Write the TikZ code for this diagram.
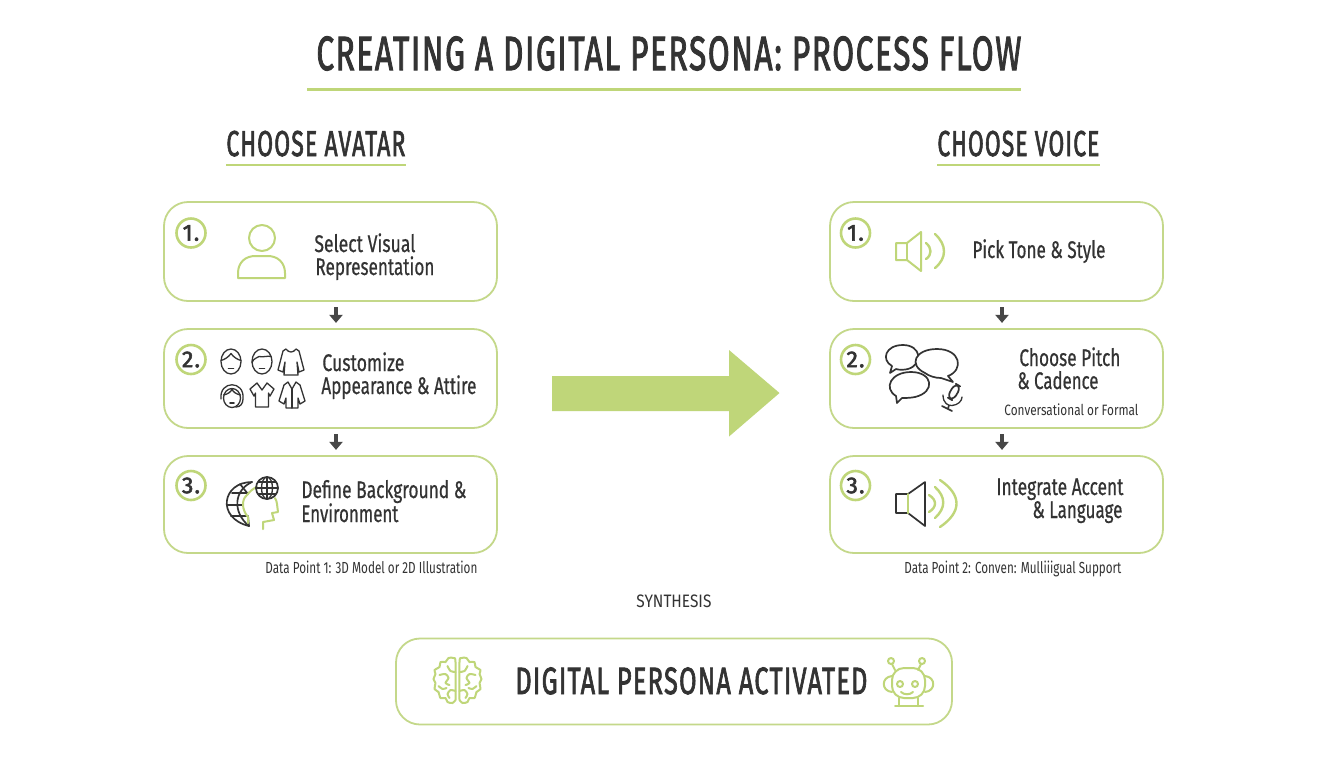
\documentclass[tikz,border=0pt]{standalone}
\usepackage{fontspec}
\usepackage{graphicx}
\setmainfont{Fira Sans}
\newfontfamily\medf{Fira Sans}[FakeBold=0.7]
\newfontfamily\headf{Fira Sans}[FakeBold=2.4,LetterSpace=5]
\usetikzlibrary{arrows.meta,shapes.arrows,calc}
\definecolor{leaf}{HTML}{BFD679}
\definecolor{edgegreen}{HTML}{C4D88A}
\definecolor{ink}{HTML}{333333}
% text fitted to a width given in px of the reference; font size in px
\newcommand\ft[3]{\resizebox{\dimexpr#1pt/2\relax}{\height}{\fontsize{\dimexpr#2pt/2\relax}{\dimexpr#2pt/2\relax}\selectfont #3}}
\newcommand\fm[3]{\ft{#1}{#2}{\medf #3}}
\newcommand\fb[3]{\ft{#1}{#2}{\headf #3}}
\tikzset{
  x=0.5pt,y=-0.5pt,
  card/.style={draw=edgegreen,line width=.9pt,fill=white,rounded corners=12pt,minimum width=166.5pt,minimum height=49.5pt,inner sep=0pt},
  badge/.style={circle,draw=leaf,line width=1.3pt,minimum size=14.5pt,inner sep=0pt,text=ink,font=\fontsize{11.5}{11.5}\selectfont\headf},
  txt/.style={anchor=base west,inner sep=0pt,text=ink},
  flowarrow/.style={draw=ink!90,line width=1.6pt,shorten <=2.6pt,shorten >=2.6pt,-{Triangle[width=6.5pt,length=4pt]}},
  rule/.style={draw=leaf,line width=#1},
  gline/.style={draw=leaf,line width=1pt,line join=round,line cap=round},
  gthick/.style={draw=leaf,line width=1.2pt,line join=round,line cap=round},
  dline/.style={draw=ink,line width=.65pt,line join=round,line cap=round},
  dlineb/.style={draw=ink,line width=.85pt,line join=round,line cap=round},
  faceA/.pic={\draw[dline] (0,0) ellipse[x radius=10,y radius=12.5];
    \draw[dline] (-10,-1) .. controls (-6,-2) and (-2,-5) .. (0,-8) .. controls (2,-5) and (6,-2) .. (10,-1);
    \draw[dlineb] (-2.5,7) -- (2.5,7);},
  faceB/.pic={\draw[dline] (0,0) ellipse[x radius=10,y radius=12.5];
    \draw[dline] (-10,1) .. controls (-8,-4) and (-5,-3) .. (-3,-5) .. controls (1,-4) and (6,-6) .. (9,-5);
    \draw[dlineb] (-2.5,7) -- (2.5,7);},
  faceC/.pic={\draw[dline] (0,3) ellipse[x radius=8.5,y radius=9.5];
    \draw[dline] (-11,4) .. controls (-13,-15) and (13,-15) .. (11,4) .. controls (11,9) and (8,12) .. (4,12);
    \draw[dline] (-8.5,0) .. controls (-4,-1) and (-1,-3) .. (0,-6) .. controls (1,-3) and (4,-1) .. (8.5,0);
    \draw[dlineb] (-2,8) -- (2,8);},
  coatA/.pic={\draw[dline] (-5,-13) -- (-8,-11) -- (-13,8) -- (-8,10) -- (-6,0) -- (-7,13) -- (7,13) -- (6,0) -- (8,10) -- (13,8) -- (8,-11) -- (5,-13) .. controls (2,-9) and (-2,-9) .. (-5,-13) -- cycle;},
  shirtA/.pic={\draw[dline] (-5,-12) -- (-12,-6) -- (-8,1) -- (-6.5,-2) -- (-6.5,12) -- (6.5,12) -- (6.5,-2) -- (8,1) -- (12,-6) -- (5,-12) -- (0,-5) -- cycle;},
  coatB/.pic={\draw[dline] (-4,-13) -- (-8,-10) -- (-13,6) -- (-8,9) -- (-6,3) -- (-6,13) -- (6,13) -- (6,3) -- (8,9) -- (13,6) -- (8,-10) -- (4,-13) -- (0,-6) -- cycle; \draw[dline] (0,-6) -- (0,13);},
  lobe/.pic={\draw[gline] plot[smooth] coordinates {(-2,20) (-5,23) (-10,22) (-12,18) (-17,18) (-19,12) (-23,9) (-22,3) (-24,-1) (-22,-6) (-23,-10) (-18,-13) (-17,-18) (-12,-18) (-9,-22) (-4,-22) (-2,-18) (-2,20)};
    \draw[gline] plot[smooth] coordinates {(-2,-8) (-7,-9) (-10,-14)};
    \draw[gline] plot[smooth] coordinates {(-18,-5) (-12,-6) (-9,-2) (-12,3) (-8,5)};
    \draw[gline] plot[smooth] coordinates {(-19,6) (-15,9) (-11,8)};
    \draw[gline] plot[smooth] coordinates {(-2,11) (-7,10) (-10,14) (-8,18)};},
}
\begin{document}
\begin{tikzpicture}
\useasboundingbox (0,0) rectangle (1344,768);
\fill[white] (0,0) rectangle (1344,768);

% title and headings
\node[txt] (title) at (316,70) {\fb{705}{48}{CREATING A DIGITAL PERSONA: PROCESS FLOW}};
\draw[rule=1.9pt] (307,89.5) -- (1021,89.5);
\node[txt] (hA) at (226,156) {\fb{179}{36}{CHOOSE AVATAR}};
\draw[rule=1.4pt] (226,165) -- (406,165);
\node[txt] (hV) at (937,156) {\fb{162}{36}{CHOOSE VOICE}};
\draw[rule=1.4pt] (937,165) -- (1100,165);

% cards
\node[card] (a1) at (330.5,251.5) {};
\node[card] (a2) at (330.5,378.5) {};
\node[card,minimum height=48.5pt] (a3) at (330.5,504.5) {};
\node[card] (v1) at (996.5,251.5) {};
\node[card] (v2) at (996.5,378.5) {};
\node[card,minimum height=48.5pt] (v3) at (996.5,504.5) {};
\node[card,minimum width=278pt,minimum height=43pt] (result) at (674,681.5) {};

% connectors
\draw[flowarrow] ([xshift=2.75pt]a1.south) -- ([xshift=2.75pt]a2.north);
\draw[flowarrow] ([xshift=2.75pt]a2.south) -- ([xshift=2.75pt]a3.north);
\draw[flowarrow] ([xshift=2.75pt]v1.south) -- ([xshift=2.75pt]v2.north);
\draw[flowarrow] ([xshift=2.75pt]v2.south) -- ([xshift=2.75pt]v3.north);
\fill[leaf] (552,376) -- (729,376) -- (729,350) -- (779.5,393) -- (729,436.5) -- (729,411) -- (552,411) -- cycle;

% badges
\node[badge] (b1) at (191,233) {1.};
\node[badge] (b2) at (191,359.5) {2.};
\node[badge] (b3) at (191,485.5) {3.};
\node[badge] (c1) at (855.5,233) {1.};
\node[badge] (c2) at (855.5,359.5) {2.};
\node[badge] (c3) at (855.5,485.5) {3.};

% card texts
\node[txt] (t1) at (314,252) {\fm{101}{24}{Select Visual}};
\node[txt] (t1b) at (315,275) {\fm{119}{24}{Representation}};
\node[txt] (t2) at (322,371) {\fm{82}{24}{Customize}};
\node[txt] (t2b) at (321,394) {\fm{155}{24}{Appearance \& Attire}};
\node[txt] (t3) at (301,498) {\fm{165}{24}{Define Background \&}};
\node[txt] (t3b) at (301,522) {\fm{97}{24}{Environment}};
\node[txt] (d1) at (265,573) {\ft{212}{16}{Data Point 1: 3D Model or 2D Illustration}};
\node[txt] (u1) at (972,258) {\fm{133}{24}{Pick Tone \& Style}};
\node[txt] (u2) at (1019,366) {\fm{101}{24}{Choose Pitch}};
\node[txt] (u2b) at (1017,389) {\fm{81}{24}{\& Cadence}};
\node[txt] (u2c) at (1004,415) {\ft{134}{15}{Conversational or Formal}};
\node[txt] (u3) at (996,495) {\fm{127}{24}{Integrate Accent}};
\node[txt] (u3b) at (1032,518) {\fm{90}{24}{\& Language}};
\node[txt] (d2) at (904,573) {\ft{217}{16}{Data Point 2: Conven: Mulliiigual Support}};
\node[txt] (syn) at (636,607) {\ft{75}{18}{SYNTHESIS}};
\node[txt] (rt) at (515,694) {\fb{352}{38}{DIGITAL PERSONA ACTIVATED}};

% icon: person
\draw[gline] (262,238) circle[radius=13];
\draw[gline] (238,278) -- (285,278) -- (285,273) .. controls (285,262) and (277,256) .. (268,256) -- (255,256) .. controls (246,256) and (238,262) .. (238,273) -- cycle;

% icons: faces and clothes
\pic at (231,361.5) {faceA};
\pic at (262,361.5) {faceB};
\pic at (291,362) {coatA};
\pic at (232,395) {faceC};
\pic at (262,395) {shirtA};
\pic at (292,395) {coatB};

% icon: globes and head
\draw[dlineb] (252,482) .. controls (222,482) and (216,518) .. (249,526);
\draw[dlineb] (252,482) .. controls (234,490) and (232,512) .. (249,526);
\draw[dlineb] (249,526) -- (248,516);
\draw[dlineb] (232,493) -- (247,493);
\draw[dlineb] (227,505) -- (243,505);
\draw[dlineb] (231,516) -- (247,516);
\draw[dlineb] (240,484) -- (248,494);
\draw[gline] (248,523) -- (248,517) .. controls (242,510) and (241,500) .. (247,495) .. controls (250,491) and (254,488) .. (257,487);
\draw[gline] (275,498) .. controls (276,500) and (277,502) .. (277,504) -- (278,512) -- (272,513) -- (274,520) -- (263,522) -- (263,529);
\draw[dlineb] (267,488) circle[radius=11];
\draw[dline] (267,477) -- (267,499) (256,488) -- (278,488) (258,482) -- (276,482) (258,494) -- (276,494);
\draw[dline] (267,488) ellipse[x radius=5.5,y radius=11];

% icon: speaker 1
\draw[gline] (896,243) -- (907,243) -- (921,232) -- (921,271) -- (907,260) -- (896,260) -- cycle;
\draw[gline] (907,243) -- (907,260);
\draw[gthick] (926,243) .. controls (932,248) and (932,255) .. (926,259);
\draw[gthick] (935,234) .. controls (947,245) and (947,258) .. (935,268);

% icon: speech bubbles and microphone
\draw[dlineb,fill=white] (892,366) .. controls (881,360) and (885,345) .. (903,345) .. controls (921,345) and (924,364) .. (908,369) .. controls (904,370) and (899,370) .. (896,369) -- (890,373) -- cycle;
\draw[dlineb,fill=white] (896,396) .. controls (883,388) and (891,372) .. (911,372) .. controls (933,372) and (936,392) .. (915,397) .. controls (910,398) and (905,398) .. (902,398) -- (897,403) -- cycle;
\draw[dlineb,fill=white] (925,373) .. controls (908,365) and (915,349) .. (937,349) .. controls (961,349) and (964,370) .. (948,376) -- (953,382) -- (941,378) .. controls (935,378) and (929,376) .. (925,373) -- cycle;
\draw[dlineb,rounded corners=3pt,rotate around={-30:(954,392)}] (950.5,384) rectangle (957.5,400);
\draw[dline] (943,395) .. controls (943,403) and (948,406) .. (952,405.5) .. controls (958,405) and (962,401) .. (962,397);
\draw[dlineb] (949,405.5) -- (948,408.5) (942,406) -- (952,411);

% icon: speaker 3
\draw[dlineb] (896,494) -- (908,494) -- (925,482) -- (925,526) -- (908,513) -- (896,513) -- cycle;
\draw[gline] (908,494) -- (908,513);
\draw[gthick] (929,495) .. controls (937,500) and (937,507) .. (929,512);
\draw[gthick] (935,487) .. controls (946,497) and (946,508) .. (935,518);
\draw[gthick] (940,480) .. controls (962,495) and (962,512) .. (940,527);

% icon: brain
\pic at (457.5,680) {lobe};
\pic[xscale=-1] at (457.5,680) {lobe};

% icon: robot
\draw[gline] (891,661) circle[radius=3] (922,661) circle[radius=3];
\draw[gline] (892,664) -- (895,670) (921,664) -- (918,670);
\draw[gline,rounded corners=6pt] (892,668) rectangle (925,698);
\draw[gline] (892,676) .. controls (881,677) and (881,691) .. (892,692);
\draw[gline] (925,676) .. controls (936,677) and (936,691) .. (925,692);
\draw[gline] (900,684) circle[radius=3] (915,684) circle[radius=3];
\draw[gline] (901,692) .. controls (904,695) and (910,695) .. (913,692);
\draw[gline] (899,698) -- (899,706) (918,698) -- (918,706) (895,706) -- (923,706);
\end{tikzpicture}
\end{document}
